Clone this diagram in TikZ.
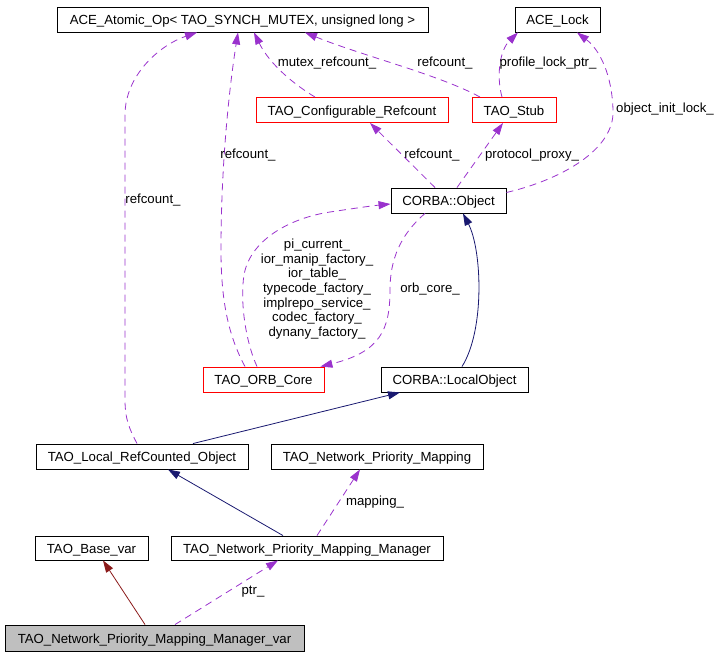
\documentclass[tikz,border=0pt]{standalone}
\usepackage{fontspec}
\setmainfont{Liberation Sans}
\usetikzlibrary{arrows.meta}
\definecolor{edgepurple}{HTML}{9A32CD}
\definecolor{edgenavy}{HTML}{191970}
\definecolor{edgered}{HTML}{8B1A1A}
\definecolor{boxgray}{HTML}{BFBFBF}
\tikzset{
  cls/.style={draw=black, line width=0.9pt, minimum height=25pt, inner sep=0pt, text height=12pt, text depth=2pt, font=\fontsize{13.2}{15}\selectfont},
  redcls/.style={cls, draw=red},
  lbl/.style={font=\fontsize{13.2}{14.6}\selectfont, inner sep=0pt, align=center},
  tipa/.style={-{Triangle[length=12pt,width=8pt]}},
  usage/.style={tipa, draw=edgepurple, line width=0.8pt, dash pattern=on 7pt off 5pt},
  inherit/.style={tipa, draw=edgenavy, line width=0.8pt},
  inheritred/.style={tipa, draw=edgered, line width=0.8pt},
}
\begin{document}
\begin{tikzpicture}[x=1pt,y=-1pt]
\useasboundingbox (0,0) rectangle (721,656);
% nodes
\node[cls, minimum width=371pt] (atomic) at (242.5,19.5) {ACE\_Atomic\_Op< TAO\_SYNCH\_MUTEX, unsigned long >};
\node[cls, minimum width=85pt] (acelock) at (557.5,19.5) {ACE\_Lock};
\node[redcls, minimum width=192pt] (cfgref) at (352,110) {TAO\_Configurable\_Refcount};
\node[redcls, minimum width=84pt] (stub) at (514,110) {TAO\_Stub};
\node[cls, minimum width=115pt] (corbaobj) at (448.5,200.5) {CORBA::Object};
\node[redcls, minimum width=121pt] (orbcore) at (263.5,379.5) {TAO\_ORB\_Core};
\node[cls, minimum width=147pt] (localobj) at (454.5,379.5) {CORBA::LocalObject};
\node[cls, minimum width=212pt] (lrco) at (142,456.5) {TAO\_Local\_RefCounted\_Object};
\node[cls, minimum width=212pt] (npm) at (377,456.5) {TAO\_Network\_Priority\_Mapping};
\node[cls, minimum width=113pt, minimum height=24pt] (basevar) at (91.5,548) {TAO\_Base\_var};
\node[cls, minimum width=272pt, minimum height=24pt] (npmm) at (307,548) {TAO\_Network\_Priority\_Mapping\_Manager};
\node[cls, minimum width=299pt, minimum height=26pt, fill=boxgray] (npmmvar) at (154.5,638) {TAO\_Network\_Priority\_Mapping\_Manager\_var};
% edges
\draw[usage] ([xshift=-5pt]lrco.north) .. controls (130,430) and (125,420) .. (125,400) -- (125,115) .. controls (125,75) and (160,45) .. ([xshift=-45.5pt]atomic.south);
\draw[usage] ([xshift=-18.5pt]orbcore.north) .. controls (228,335) and (221,300) .. (221,250) .. controls (221,150) and (232,70) .. ([xshift=-4.5pt]atomic.south);
\draw[usage] ([xshift=-37pt]cfgref.north) .. controls (295,85) and (270,65) .. ([xshift=11.5pt]atomic.south);
\draw[usage] ([xshift=-34pt]stub.north) .. controls (440,75) and (360,55) .. ([xshift=62.5pt]atomic.south);
\draw[usage] ([xshift=-12pt]stub.north) .. controls (496,75) and (500,50) .. ([xshift=-39.5pt]acelock.south);
\draw[usage] ([yshift=8pt]corbaobj.east) .. controls (560,180) and (615,150) .. (613,110) .. controls (612,75) and (600,50) .. ([xshift=19.5pt]acelock.south);
\draw[usage] ([xshift=-13.5pt]corbaobj.north) -- ([xshift=18pt]cfgref.south);
\draw[usage] ([xshift=8.5pt]corbaobj.north) -- ([xshift=-11pt]stub.south);
\draw[usage] ([xshift=-6.5pt]orbcore.north) .. controls (245,340) and (240,300) .. (244,275) .. controls (250,240) and (290,218) .. (330,212) .. controls (350,209) and (370,206) .. ([yshift=-3.5pt]corbaobj.west);
\draw[usage] ([xshift=-23.5pt]corbaobj.south) .. controls (400,235) and (390,260) .. (390,290) .. controls (390,330) and (380,352) .. ([xshift=-4pt]orbcore.north east);
\draw[inherit] ([xshift=7.5pt]localobj.north) .. controls (485,330) and (482,250) .. ([xshift=14.5pt]corbaobj.south);
\draw[inherit] ([xshift=51pt]lrco.north) -- ([xshift=-54.5pt]localobj.south);
\draw[inherit] ([xshift=-24pt]npmm.north) -- ([xshift=26pt]lrco.south);
\draw[usage] ([xshift=10pt]npmm.north) -- ([xshift=-17pt]npm.south);
\draw[inheritred] ([xshift=-9.5pt]npmmvar.north) -- ([xshift=11.5pt]basevar.south);
\draw[usage] ([xshift=20.5pt]npmmvar.north) -- ([xshift=-29pt]npmm.south);
% labels
\node[lbl] (l1) at (153,200) {refcount\_};
\node[lbl] (l2) at (248,155) {refcount\_};
\node[lbl] (l3) at (327,63) {mutex\_refcount\_};
\node[lbl] (l4) at (445,63) {refcount\_};
\node[lbl] (l5) at (548,63) {profile\_lock\_ptr\_};
\node[lbl] (l6) at (665,109) {object\_init\_lock\_};
\node[lbl] (l7) at (432,155) {refcount\_};
\node[lbl] (l8) at (532,155) {protocol\_proxy\_};
\node[lbl] (l9) at (317,289) {pi\_current\_\\ior\_manip\_factory\_\\ior\_table\_\\typecode\_factory\_\\implrepo\_service\_\\codec\_factory\_\\dynany\_factory\_};
\node[lbl] (l10) at (430,289) {orb\_core\_};
\node[lbl] (l11) at (375,502) {mapping\_};
\node[lbl] (l12) at (253,592) {ptr\_};
\end{tikzpicture}
\end{document}
